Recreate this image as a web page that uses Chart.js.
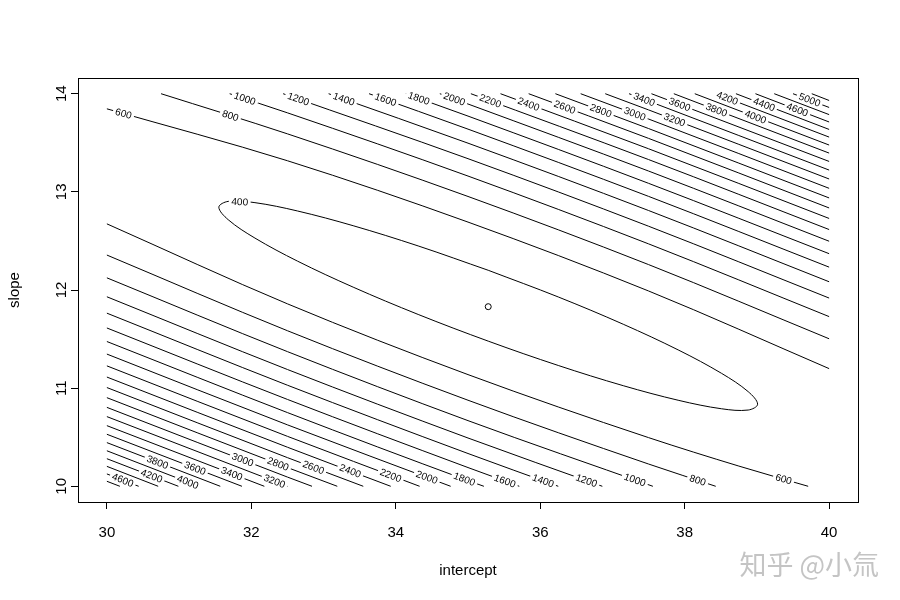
<!DOCTYPE html>
<html>
<head>
<meta charset="utf-8">
<script src="https://cdn.jsdelivr.net/npm/chart.js@4.4.1/dist/chart.umd.min.js"></script>
<style>
  html, body { margin: 0; padding: 0; background: #fff; }
  canvas { display: block; }
</style>
</head>
<body>
<canvas id="contourChart" width="900" height="600"></canvas>
<script>
// tick labels
const xTicks = [30, 32, 34, 36, 38, 40];
const yTicks = [10, 11, 12, 13, 14];

// contour levels, branch above the valley (upper right) and below it (lower left)
const upperLevels = [600, 800, 1000, 1200, 1400, 1600, 1800, 2000, 2200, 2400, 2600, 2800,
                     3000, 3200, 3400, 3600, 3800, 4000, 4200, 4400, 4600, 4800, 5000, 5200];
const lowerLevels = [600, 800, 1000, 1200, 1400, 1600, 1800, 2000, 2200, 2400, 2600, 2800,
                     3000, 3200, 3400, 3600, 3800, 4000, 4200, 4400, 4600, 4800];

// [intercept, slope] points
const upperPaths = [
  [[30, 13.846], [32.5, 13.317], [35, 12.692], [37.5, 11.990], [40, 11.199]],
  [[30.75, 14], [32.5, 13.591], [35, 12.953], [37.5, 12.259], [40, 11.503]],
  [[31.70, 14], [32.5, 13.805], [35, 13.161], [37.5, 12.470], [40, 11.729]],
  [[32.44, 14], [35, 13.338], [37.5, 12.650], [40, 11.918]],
  [[33.07, 14], [35, 13.496], [37.5, 12.810], [40, 12.084]],
  [[33.63, 14], [35, 13.639], [37.5, 12.954], [40, 12.233]],
  [[34.14, 14], [35, 13.772], [37.5, 13.087], [40, 12.370]],
  [[34.61, 14], [35, 13.895], [37.5, 13.212], [40, 12.497]],
  [[35.04, 14], [37.5, 13.329], [40, 12.616]],
  [[35.45, 14], [37.5, 13.439], [40, 12.729]],
  [[35.84, 14], [37.5, 13.545], [40, 12.836]],
  [[36.21, 14], [37.5, 13.645], [40, 12.938]],
  [[36.56, 14], [37.5, 13.742], [40, 13.036]],
  [[36.90, 14], [37.5, 13.835], [40, 13.131]],
  [[37.23, 14], [37.5, 13.925], [40, 13.222]],
  [[37.54, 14], [40, 13.310]],
  [[37.85, 14], [40, 13.395]],
  [[38.14, 14], [40, 13.477]],
  [[38.43, 14], [40, 13.558]],
  [[38.71, 14], [40, 13.636]],
  [[38.98, 14], [40, 13.712]],
  [[39.24, 14], [40, 13.787]],
  [[39.50, 14], [40, 13.860]],
  [[39.76, 14], [40, 13.931]]
];

const lowerPaths = [
  [[30, 12.674], [32.5, 11.859], [35, 11.138], [37.5, 10.496], [38.75, 10.206], [39.71, 10]],
  [[30, 12.356], [32.5, 11.585], [35, 10.877], [37.5, 10.227], [38.43, 10]],
  [[30, 12.124], [32.5, 11.372], [35, 10.669], [37.56, 10]],
  [[30, 11.931], [32.5, 11.190], [35, 10.492], [36.86, 10]],
  [[30, 11.764], [32.5, 11.030], [35, 10.334], [36.25, 10]],
  [[30, 11.613], [32.5, 10.885], [35, 10.191], [35.71, 10]],
  [[30, 11.475], [32.5, 10.751], [35, 10.058], [35.22, 10]],
  [[30, 11.347], [32.5, 10.626], [34.76, 10]],
  [[30, 11.227], [32.5, 10.509], [34.33, 10]],
  [[30, 11.113], [32.5, 10.398], [33.93, 10]],
  [[30, 11.006], [32.5, 10.292], [33.55, 10]],
  [[30, 10.903], [32.5, 10.191], [33.19, 10]],
  [[30, 10.804], [32.5, 10.094], [32.84, 10]],
  [[30, 10.710], [32.50, 10]],
  [[30, 10.618], [32.18, 10]],
  [[30, 10.530], [31.87, 10]],
  [[30, 10.445], [31.57, 10]],
  [[30, 10.362], [31.27, 10]],
  [[30, 10.281], [30.99, 10]],
  [[30, 10.203], [30.71, 10]],
  [[30, 10.126], [30.44, 10]],
  [[30, 10.051], [30.18, 10]]
];

// the closed 400 contour round the minimum, starting on its upper flank
const ellipse400 = [
  [35.28, 12.201], [34.31, 12.449], [33.41, 12.655], [32.64, 12.805], [32.05, 12.890],
  [31.68, 12.903], [31.55, 12.844], [31.68, 12.716], [32.05, 12.529], [32.64, 12.294],
  [33.41, 12.029], [34.31, 11.751], [35.28, 11.479], [36.25, 11.231], [37.15, 11.025],
  [37.92, 10.875], [38.51, 10.790], [38.88, 10.777], [39.01, 10.836], [38.88, 10.964],
  [38.51, 11.151], [37.92, 11.386], [37.15, 11.651], [36.25, 11.929], [35.28, 12.201]
];

const minimumPoint = [35.28, 11.83];

// [level, branch, intercept where the label sits]
const contourLabels = [
  [400, 'e', 31.84],
  [600, 'u', 30.23], [800, 'u', 31.71], [1000, 'u', 31.91], [1200, 'u', 32.65],
  [1400, 'u', 33.28], [1600, 'u', 33.86], [1800, 'u', 34.32], [2000, 'u', 34.81],
  [2200, 'u', 35.31], [2400, 'u', 35.84], [2600, 'u', 36.34], [2800, 'u', 36.84],
  [3000, 'u', 37.31], [3200, 'u', 37.86], [3400, 'u', 37.44], [3600, 'u', 37.93],
  [3800, 'u', 38.44], [4000, 'u', 38.98], [4200, 'u', 38.59], [4400, 'u', 39.10],
  [4600, 'u', 39.56], [5000, 'u', 39.73],
  [600, 'l', 39.37], [800, 'l', 38.18], [1000, 'l', 37.31], [1200, 'l', 36.64],
  [1400, 'l', 36.04], [1600, 'l', 35.51], [1800, 'l', 34.95], [2000, 'l', 34.43],
  [2200, 'l', 33.93], [2400, 'l', 33.37], [2600, 'l', 32.86], [2800, 'l', 32.37],
  [3000, 'l', 31.88], [3200, 'l', 32.32], [3400, 'l', 31.73], [3600, 'l', 31.22],
  [3800, 'l', 30.70], [4000, 'l', 31.12], [4200, 'l', 30.62], [4600, 'l', 30.22]
];

const FONT = '"Liberation Sans", Arial, sans-serif';

const toXY = path => path.map(p => ({ x: p[0], y: p[1] }));

const lineStyle = {
  showLine: true,
  borderColor: '#000',
  borderWidth: 1,
  pointRadius: 0,
  fill: false,
  cubicInterpolationMode: 'monotone'
};

const datasets = [];
upperPaths.forEach(path => datasets.push(Object.assign({ data: toXY(path) }, lineStyle)));
lowerPaths.forEach(path => datasets.push(Object.assign({ data: toXY(path) }, lineStyle)));
datasets.push({
  data: toXY(ellipse400), showLine: true, borderColor: '#000', borderWidth: 1,
  pointRadius: 0, fill: false, tension: 0.35
});
datasets.push({
  data: [{ x: minimumPoint[0], y: minimumPoint[1] }], showLine: false,
  pointRadius: 3, borderColor: '#000', borderWidth: 1, backgroundColor: 'rgba(0,0,0,0)'
});

function findOnPath(path, a) {
  for (let i = 0; i < path.length - 1; i++) {
    const p = path[i], q = path[i + 1];
    if (p[0] !== q[0] && (a - p[0]) * (a - q[0]) <= 0) {
      const t = (a - p[0]) / (q[0] - p[0]);
      return { b: p[1] + t * (q[1] - p[1]), p: p, q: q };
    }
  }
  return null;
}

const framePlugin = {
  id: 'frame',
  afterDatasetsDraw(chart) {
    const { ctx, chartArea, scales } = chart;
    const xs = scales.x, ys = scales.y;

    // contour labels, drawn over a white gap in the line
    ctx.save();
    ctx.font = '10px ' + FONT;
    contourLabels.forEach(lab => {
      const path = lab[1] === 'u' ? upperPaths[upperLevels.indexOf(lab[0])]
                 : lab[1] === 'l' ? lowerPaths[lowerLevels.indexOf(lab[0])]
                 : ellipse400;
      const hit = findOnPath(path, lab[2]);
      if (!hit) return;
      const px = xs.getPixelForValue(lab[2]), py = ys.getPixelForValue(hit.b);
      let ang = Math.atan2(ys.getPixelForValue(hit.q[1]) - ys.getPixelForValue(hit.p[1]),
                           xs.getPixelForValue(hit.q[0]) - xs.getPixelForValue(hit.p[0]));
      if (ang > Math.PI / 2) ang -= Math.PI;
      if (ang < -Math.PI / 2) ang += Math.PI;
      const txt = String(lab[0]);
      const w = ctx.measureText(txt).width + 5;
      ctx.save();
      ctx.translate(px, py);
      ctx.rotate(ang);
      ctx.fillStyle = '#fff';
      ctx.fillRect(-w / 2, -4.5, w, 9);
      ctx.fillStyle = '#000';
      ctx.textAlign = 'center';
      ctx.textBaseline = 'middle';
      ctx.fillText(txt, 0, 0.5);
      ctx.restore();
    });
    ctx.restore();

    // box round the plot region
    ctx.save();
    ctx.strokeStyle = '#000';
    ctx.lineWidth = 1;
    const l = Math.round(chartArea.left) + 0.5, t = Math.round(chartArea.top) + 0.5;
    ctx.strokeRect(l, t, Math.round(chartArea.right - chartArea.left), Math.round(chartArea.bottom - chartArea.top));

    // tick labels
    ctx.fillStyle = '#000';
    ctx.font = '15px ' + FONT;
    ctx.textAlign = 'center';
    ctx.textBaseline = 'middle';
    xTicks.forEach(v => ctx.fillText(String(v), xs.getPixelForValue(v), 533));
    yTicks.forEach(v => {
      ctx.save();
      ctx.translate(62, ys.getPixelForValue(v));
      ctx.rotate(-Math.PI / 2);
      ctx.fillText(String(v), 0, 0);
      ctx.restore();
    });

    // axis titles
    ctx.fillText('intercept', (chartArea.left + chartArea.right) / 2, 571);
    ctx.save();
    ctx.translate(15, (chartArea.top + chartArea.bottom) / 2);
    ctx.rotate(-Math.PI / 2);
    ctx.fillText('slope', 0, 0);
    ctx.restore();

    // watermark
    ctx.font = '27px "Noto Sans CJK SC"';
    ctx.fillStyle = '#c4c4c4';
    ctx.textAlign = 'right';
    ctx.fillText('知乎 @小氚', 879, 565);
    ctx.restore();
  }
};

new Chart(document.getElementById('contourChart'), {
  type: 'scatter',
  data: { datasets: datasets },
  options: {
    responsive: false,
    animation: false,
    layout: { padding: { top: 78, right: 42, left: 0, bottom: 0 } },
    plugins: { legend: { display: false }, tooltip: { enabled: false } },
    scales: {
      x: {
        type: 'linear', min: 29.6, max: 40.4,
        afterBuildTicks: s => { s.ticks = xTicks.map(v => ({ value: v })); },
        afterFit: s => { s.height = 98; },
        grid: { drawOnChartArea: false, drawTicks: true, tickLength: 7, color: '#000', lineWidth: 1 },
        border: { display: false },
        ticks: { display: false }
      },
      y: {
        type: 'linear', min: 9.84, max: 14.16,
        afterBuildTicks: s => { s.ticks = yTicks.map(v => ({ value: v })); },
        afterFit: s => { s.width = 78; },
        grid: { drawOnChartArea: false, drawTicks: true, tickLength: 7, color: '#000', lineWidth: 1 },
        border: { display: false },
        ticks: { display: false }
      }
    }
  },
  plugins: [framePlugin]
});
</script>
</body>
</html>
